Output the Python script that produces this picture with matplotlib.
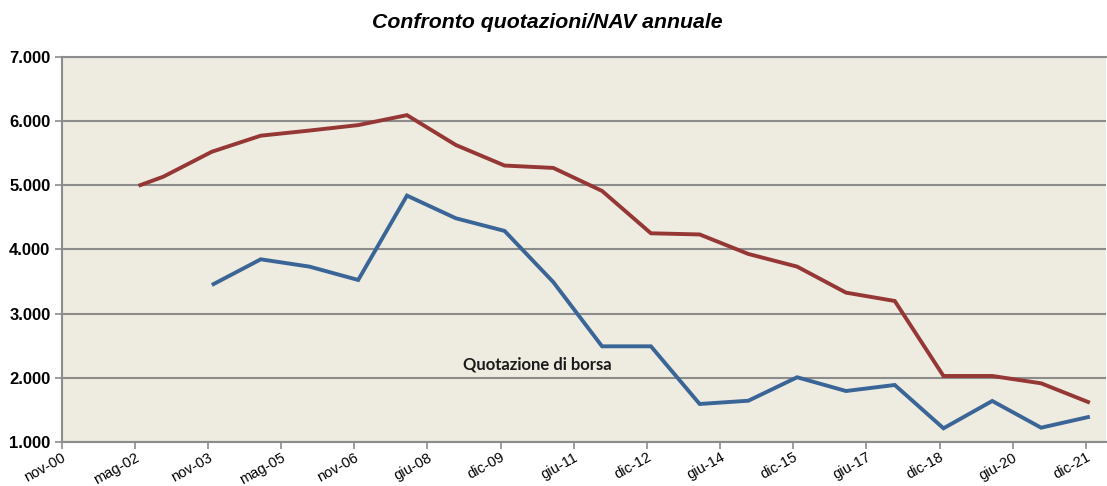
import matplotlib
matplotlib.use("Agg")
import matplotlib.pyplot as plt
import datetime as dt

# ---- data ----
nav_dates = ["2002-06-30"] + [f"{y}-12-31" for y in range(2002, 2022)]
nav_values = [4990, 5130, 5520, 5770, 5850, 5935, 6090, 5625, 5305, 5268,
              4910, 4250, 4232, 3928, 3731, 3326, 3196, 2028, 2028, 1914, 1612]

quote_dates = [f"{y}-12-31" for y in range(2003, 2022)]
quote_values = [3445, 3845, 3731, 3523, 4837, 4484, 4287, 3490, 2490, 2490,
                1592, 1643, 2008, 1794, 1888, 1213, 1639, 1223, 1394]

tick_labels = ["nov-00", "mag-02", "nov-03", "mag-05", "nov-06", "giu-08", "dic-09",
               "giu-11", "dic-12", "giu-14", "dic-15", "giu-17", "dic-18", "giu-20", "dic-21"]
y_ticks = [1000, 2000, 3000, 4000, 5000, 6000, 7000]

title = "Confronto quotazioni/NAV annuale"
series_label = "Quotazione di borsa"

# ---- styling ----
red = "#953735"
blue = "#3A6597"
bg = "#EEEBE0"
grid = "#8C8C8C"

fig = plt.figure(figsize=(11.07, 4.86), dpi=100)
ax = fig.add_axes([61.5 / 1107, 1 - 442 / 486, (1106 - 61.5) / 1107, (442 - 56.7) / 486])
ax.set_facecolor(bg)

nd = [dt.datetime.strptime(d, "%Y-%m-%d") for d in nav_dates]
qd = [dt.datetime.strptime(d, "%Y-%m-%d") for d in quote_dates]

ax.plot(nd, nav_values, color=red, lw=2.8, solid_joinstyle="miter", solid_capstyle="butt", zorder=3)
ax.plot(qd, quote_values, color=blue, lw=2.8, solid_joinstyle="miter", solid_capstyle="butt", zorder=3)

start = dt.datetime(2000, 11, 30)
tick_pos = [start + dt.timedelta(days=548 * k) for k in range(len(tick_labels))]
ax.set_xlim(start, tick_pos[-1] + dt.timedelta(days=150))
ax.set_ylim(1000, 7000)

ax.set_xticks(tick_pos)
ax.set_xticklabels(tick_labels, rotation=29, ha="right", rotation_mode="anchor",
                   fontsize=10.5, family="Liberation Sans", color="#000000")
ax.set_yticks(y_ticks)
ax.set_yticklabels([f"{v:,}".replace(",", ".") for v in y_ticks], fontsize=12,
                   fontweight="bold", family="Liberation Sans")

ax.yaxis.grid(True, color=grid, lw=1.5, zorder=1)
ax.set_axisbelow(True)
ax.spines["right"].set_visible(False)
for s in ["left", "bottom", "top"]:
    ax.spines[s].set_color(grid)
    ax.spines[s].set_linewidth(1.5)
ax.tick_params(axis="both", colors=grid, length=5, width=1.2, labelcolor="black")
ax.tick_params(axis="x", pad=1)
ax.tick_params(axis="y", pad=3)

ax.text(dt.datetime(2010, 9, 1), 2200, series_label, fontsize=12, fontweight="bold",
        family="Lato", ha="center", va="center", color="#1a1a1a")

fig.text(547 / 1107, 1 - 23 / 486, title, fontsize=15.3, fontweight="bold", style="italic",
         family="Liberation Sans", ha="center", va="center")

fig.savefig("out.png", dpi=100)
